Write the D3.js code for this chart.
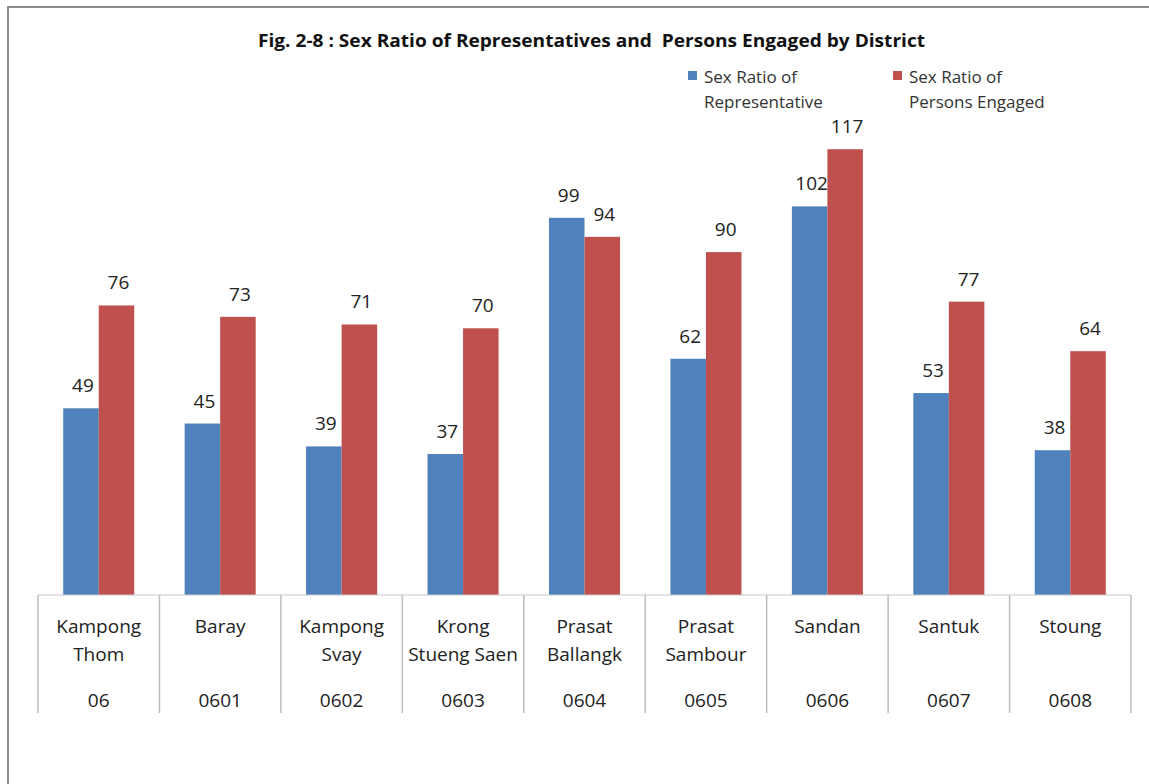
<!DOCTYPE html>
<html>
<head>
<meta charset="utf-8">
<script src="https://cdn.jsdelivr.net/npm/d3@7"></script>
<style>
  body { margin: 0; background: #fff; }
  svg { display: block; }
</style>
</head>
<body>
<div id="chart"></div>
<script>
// district names (two lines where the original wraps), codes and the two series
const districts = ["Kampong|Thom", "Baray", "Kampong|Svay", "Krong|Stueng Saen", "Prasat|Ballangk",
                   "Prasat|Sambour", "Sandan", "Santuk", "Stoung"];
const codes = ["06", "0601", "0602", "0603", "0604", "0605", "0606", "0607", "0608"];
const repRatio = [49, 45, 39, 37, 99, 62, 102, 53, 38];
const engagedRatio = [76, 73, 71, 70, 94, 90, 117, 77, 64];
const seriesNames = ["Sex Ratio of|Representative", "Sex Ratio of|Persons Engaged"];
const colors = ["#4f81bd", "#c0504d"];

const W = 1149, H = 784;
const base = 595;

const svg = d3.select("#chart").append("svg")
  .attr("width", W)
  .attr("height", H);

// outer frame (only left & top edges fall inside the picture)
svg.append("path")
  .attr("d", `M8,${H + 5} L8,7 L${W + 5},7`)
  .attr("fill", "none")
  .attr("stroke", "#8c8c8c")
  .attr("stroke-width", 2);

const x0 = d3.scaleBand()
  .domain(districts)
  .range([38, 1131])
  .padding(0);

const bw = x0.bandwidth();
const gap = bw * 0.415;
const x1 = d3.scaleBand()
  .domain([0, 1])
  .range([gap / 2, bw - gap / 2]);

const y = d3.scaleLinear()
  .domain([0, 140])
  .range([base, base - 140 * 3.81]);

const rows = districts.map((d, i) => ({ name: d, code: codes[i], vals: [repRatio[i], engagedRatio[i]] }));

const g = svg.append("g");

const groups = g.selectAll(".grp")
  .data(rows)
  .enter()
  .append("g")
  .attr("class", "grp")
  .attr("transform", d => `translate(${x0(d.name)},0)`);

groups.selectAll("rect")
  .data(d => d.vals.map((v, k) => ({ v, k })))
  .enter()
  .append("rect")
  .attr("x", d => x1(d.k))
  .attr("y", d => y(d.v))
  .attr("width", x1.bandwidth())
  .attr("height", d => base - y(d.v))
  .attr("fill", d => colors[d.k]);

groups.selectAll(".val")
  .data(d => d.vals.map((v, k) => ({ v, k })))
  .enter()
  .append("text")
  .attr("class", "val")
  .attr("x", d => x1(d.k) + x1.bandwidth() / 2 + 2)
  .attr("y", d => y(d.v) - 16)
  .attr("text-anchor", "middle")
  .attr("font-family", "Open Sans, sans-serif")
  .attr("font-size", 19)
  .attr("fill", "#222")
  .text(d => d.v);

// category axis: baseline and separators
g.append("line")
  .attr("x1", 38).attr("x2", 1131)
  .attr("y1", base).attr("y2", base)
  .attr("stroke", "#c8c8c8")
  .attr("stroke-width", 1.2);

const seps = districts.map(d => x0(d)).concat([x0(districts[districts.length - 1]) + bw]);
g.selectAll(".sep")
  .data(seps)
  .enter()
  .append("line")
  .attr("class", "sep")
  .attr("x1", d => d).attr("x2", d => d)
  .attr("y1", base).attr("y2", 713)
  .attr("stroke", "#bdbdbd")
  .attr("stroke-width", 1.5);

const lbl = groups.append("text")
  .attr("text-anchor", "middle")
  .attr("font-family", "Open Sans, sans-serif")
  .attr("font-size", 19)
  .attr("fill", "#222");

lbl.selectAll("tspan")
  .data(d => d.name.split("|"))
  .enter()
  .append("tspan")
  .attr("x", bw / 2)
  .attr("y", (d, i) => 633 + i * 28)
  .text(d => d);

groups.append("text")
  .attr("x", bw / 2)
  .attr("y", 707)
  .attr("text-anchor", "middle")
  .attr("font-family", "Open Sans, sans-serif")
  .attr("font-size", 19)
  .attr("fill", "#222")
  .text(d => d.code);

// title
svg.append("text")
  .attr("x", 258)
  .attr("y", 47)
  .attr("font-family", "Open Sans, sans-serif")
  .attr("font-weight", 700)
  .attr("font-size", 17)
  .attr("fill", "#111")
  .attr("textLength", 667)
  .attr("lengthAdjust", "spacingAndGlyphs")
  .style("white-space", "pre")
  .text("Fig. 2-8 : Sex Ratio of Representatives and  Persons Engaged by District");

// legend
const legX = [688, 893];
const leg = svg.selectAll(".leg")
  .data(seriesNames)
  .enter()
  .append("g")
  .attr("class", "leg")
  .attr("transform", (d, i) => `translate(${legX[i]},0)`);

leg.append("rect")
  .attr("x", 0).attr("y", 71)
  .attr("width", 9).attr("height", 9)
  .attr("fill", (d, i) => colors[i]);

leg.append("text")
  .attr("font-family", "Open Sans, sans-serif")
  .attr("font-size", 17)
  .attr("fill", "#333")
  .selectAll("tspan")
  .data(d => d.split("|"))
  .enter()
  .append("tspan")
  .attr("x", 16)
  .attr("y", (d, i) => 83 + i * 25)
  .text(d => d);
</script>
</body>
</html>
